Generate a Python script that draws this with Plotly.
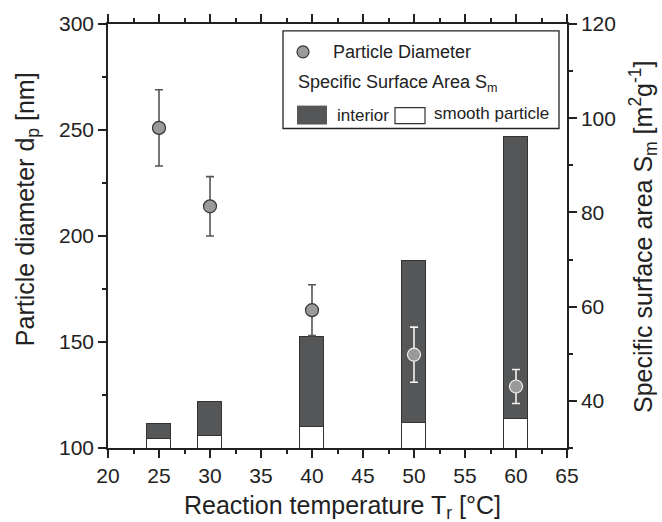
import plotly.graph_objects as go

# ---- data ----
temperature = [25, 30, 40, 50, 60]
diameter_nm = [251, 214, 165, 144, 129]
diameter_err = [18, 14, 12, 13, 8]
smooth_area = [31.9, 32.5, 34.4, 35.3, 36.1]
interior_area = [3.2, 7.3, 19.1, 34.5, 59.9]
x_ticks = [20, 25, 30, 35, 40, 45, 50, 55, 60, 65]
left_ticks = [100, 150, 200, 250, 300]
right_ticks = [40, 60, 80, 100, 120]

FONT = "Liberation Sans, Arial, sans-serif"
INK = "#222222"
DARK = "#545658"

fig = go.Figure()

fig.add_bar(x=temperature, y=smooth_area, width=2.4, yaxis="y",
            marker=dict(color="white", line=dict(color="#333333", width=1.2)),
            showlegend=False)
fig.add_bar(x=temperature, y=interior_area, width=2.4, yaxis="y",
            marker=dict(color=DARK, line=dict(color="#333333", width=1.2)),
            showlegend=False)

# points outside bars (dark error bars) and inside bars (light error bars)
fig.add_scatter(x=temperature[:3], y=diameter_nm[:3], mode="markers", yaxis="y2",
                error_y=dict(type="data", array=diameter_err[:3], color="#555555",
                             thickness=1.6, width=4),
                marker=dict(size=13, color="#9a9a9a", line=dict(color="#333333", width=1.2)),
                showlegend=False)
fig.add_scatter(x=temperature[3:], y=diameter_nm[3:], mode="markers", yaxis="y2",
                error_y=dict(type="data", array=diameter_err[3:], color="#f2f2f2",
                             thickness=1.6, width=4),
                marker=dict(size=13, color="#9a9a9a", line=dict(color="#eeeeee", width=1.2)),
                showlegend=False)

# ---- layout geometry helpers ----
L, R, T, B = 108, 567, 22, 448


def px(xp):
    return (xp - L) / (R - L)


def py(yp):
    return (B - yp) / (B - T)


axis_common = dict(showgrid=False, zeroline=False, showline=True, linecolor=INK,
                   linewidth=1.5, ticks="outside", ticklen=8, tickwidth=1.5,
                   tickcolor=INK, tickfont=dict(size=21, color=INK, family=FONT))

fig.update_layout(
    width=662, height=522,
    margin=dict(l=L, r=662 - R, t=T, b=522 - B),
    plot_bgcolor="white", paper_bgcolor="white",
    barmode="stack", bargap=0,
    font=dict(family=FONT, color=INK),
    showlegend=False,
    xaxis=dict(range=[20, 65], tickmode="array", tickvals=x_ticks, mirror="ticks",
               minor=dict(dtick=2.5, tick0=20, ticklen=4, tickwidth=1.5,
                          tickcolor=INK, ticks="outside"),
               **axis_common),
    yaxis=dict(range=[30, 120], side="right", tickmode="array", tickvals=right_ticks,
               minor=dict(dtick=10, tick0=30, ticklen=4, tickwidth=1.5,
                          tickcolor=INK, ticks="outside"),
               **axis_common),
    yaxis2=dict(range=[100, 300], side="left", overlaying="y", tickmode="array",
                tickvals=left_ticks,
                minor=dict(dtick=25, tick0=100, ticklen=4, tickwidth=1.5,
                           tickcolor=INK, ticks="outside"),
                **axis_common),
)

annotations = [
    dict(text="Reaction temperature T<sub>r</sub> [°C]", x=px(342), y=py(507),
         font=dict(size=25)),
    dict(text="Particle diameter d<sub>p</sub> [nm]", x=px(27), y=py(208),
         textangle=-90, font=dict(size=25)),
    dict(text="Specific surface area S<sub>m</sub> [m<sup>2</sup>g<sup>-1</sup>]",
         x=px(643), y=py(236), textangle=-90, font=dict(size=25)),
    # legend texts
    dict(text="Particle Diameter", x=px(331), y=py(50), xanchor="left",
         font=dict(size=18)),
    dict(text="Specific Surface Area S<sub>m</sub>", x=px(296), y=py(82),
         xanchor="left", font=dict(size=18)),
    dict(text="interior", x=px(335), y=py(114), xanchor="left", font=dict(size=17)),
    dict(text="smooth particle", x=px(432), y=py(112), xanchor="left",
         font=dict(size=17)),
]
for a in annotations:
    a.setdefault("xanchor", "center")
    a.update(xref="paper", yref="paper", yanchor="middle", showarrow=False)
    a["font"].update(family=FONT, color=INK)
fig.update_layout(annotations=annotations)

shapes = [
    dict(type="rect", x0=px(283), x1=px(559), y0=py(29), y1=py(127),
         line=dict(color=INK, width=1.3), fillcolor="white"),
    dict(type="circle", x0=px(297), x1=px(309), y0=py(44), y1=py(56),
         line=dict(color="#333333", width=1.2), fillcolor="#9a9a9a"),
    dict(type="rect", x0=px(297), x1=px(327), y0=py(104), y1=py(123),
         line=dict(width=0), fillcolor=DARK),
    dict(type="rect", x0=px(395), x1=px(425), y0=py(106), y1=py(122),
         line=dict(color="#333333", width=1.2), fillcolor="white"),
]
for s in shapes:
    s.update(xref="paper", yref="paper", layer="above")
fig.update_layout(shapes=shapes)

fig.write_html("out.html", config={"displayModeBar": False},
               post_script="document.body.style.margin='0';document.body.style.overflow='hidden';")
